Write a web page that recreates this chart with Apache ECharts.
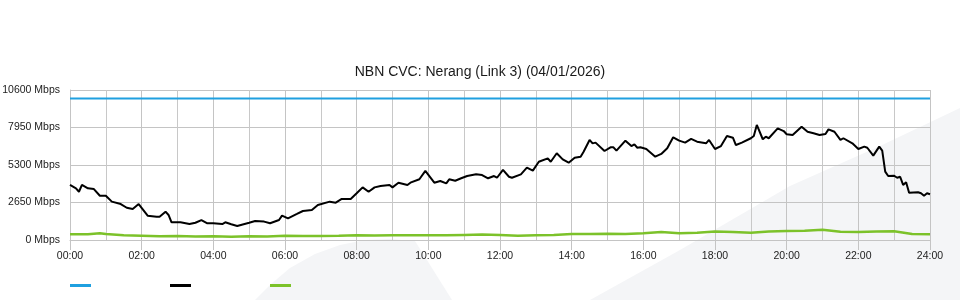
<!DOCTYPE html>
<html>
<head>
<meta charset="utf-8">
<script src="https://cdn.jsdelivr.net/npm/echarts@6/dist/echarts.min.js"></script>
<style>html,body{margin:0;padding:0;background:#fff;}#c{width:960px;height:300px;}</style>
</head>
<body>
<div id="c"></div>
<script>
// Y axis ticks (Mbps)
var yTicks = [0, 2650, 5300, 7950, 10600];
// X axis: hours of day
var xTickHours = [0, 2, 4, 6, 8, 10, 12, 14, 16, 18, 20, 22, 24];

// Capacity line
var capTimes = [0, 1440];
var capValues = [10000, 10000];

// Download (black) — minutes since midnight / Mbps
var dlTimes = [0,10,15,20,30,40,50,60,70,85,95,105,115,130,145,150,160,165,170,185,200,210,220,230,240,255,260,270,280,300,310,325,335,350,355,365,380,390,405,415,435,445,455,470,480,490,500,510,520,535,540,550,565,570,585,595,610,620,630,635,645,655,665,680,690,700,710,715,725,735,740,755,765,775,785,800,805,815,825,835,845,855,860,870,875,880,895,905,910,915,930,940,945,950,955,965,980,990,1000,1010,1020,1030,1040,1050,1065,1070,1080,1090,1100,1110,1115,1125,1140,1145,1150,1160,1165,1170,1185,1195,1200,1210,1225,1235,1245,1255,1265,1270,1280,1290,1295,1310,1320,1330,1335,1345,1355,1360,1365,1370,1380,1385,1390,1395,1400,1405,1420,1425,1430,1435,1440];
var dlValues = [3890,3650,3410,3890,3650,3600,3130,3130,2710,2540,2280,2190,2540,1720,1650,1650,2000,1770,1250,1250,1130,1220,1410,1180,1180,1130,1250,1110,990,1220,1340,1300,1180,1410,1720,1530,1840,2050,2120,2470,2710,2640,2900,2900,3300,3720,3410,3720,3820,3890,3720,4050,3890,4050,4290,4880,4050,4170,4000,4290,4190,4360,4520,4640,4590,4360,4520,4400,4950,4470,4400,4640,5110,4900,5530,5770,5530,6130,5700,5460,5820,5890,6240,7070,6830,6880,6290,6550,6550,6310,7020,6640,6760,6520,6550,6430,5890,6080,6480,7260,7020,6880,7140,6950,6830,7070,6430,6640,7350,7230,6710,6880,7190,7350,8130,7120,7300,7190,7890,7700,7470,7420,8010,7650,7540,7420,7490,7820,7650,7070,7190,6830,6430,6600,6520,5960,6600,6310,4830,4520,4540,4400,4470,3890,4080,3340,3370,3300,3130,3300,3230];

// Upload (green) — minutes since midnight / Mbps
var ulTimes = [0,30,50,60,90,120,150,180,210,240,270,300,330,360,390,420,450,480,510,540,570,600,630,660,690,720,750,780,810,840,870,900,930,960,990,1020,1050,1080,1110,1140,1170,1200,1230,1260,1290,1320,1350,1380,1410,1440];
var ulValues = [410,400,480,420,330,300,260,290,250,270,230,270,250,300,280,290,300,330,320,330,330,330,340,360,380,360,300,330,350,430,420,450,430,480,560,470,520,600,560,520,600,640,660,730,580,560,600,620,420,400];

function pairs(t, v) { return t.map(function (m, i) { return [m / 60, v[i]]; }); }

var chart = echarts.init(document.getElementById('c'), null, {renderer: 'canvas'});
var fontFam = 'Arial, "Liberation Sans", sans-serif';
var noText = function () { return ''; };
chart.setOption({
  animation: false,
  backgroundColor: '#ffffff',
  title: {
    text: 'NBN CVC: Nerang (Link 3) (04/01/2026)',
    left: 'center', top: 60,
    textStyle: {fontSize: 14, fontWeight: 'normal', color: '#1a1a1a', fontFamily: fontFam}
  },
  graphic: [
    {type: 'polygon', z: -10, silent: true,
     shape: {points: [[590, 300], [680, 250], [790, 186], [880, 146], [960, 108], [960, 300]]},
     style: {fill: '#f4f5f7'}},
    {type: 'polygon', z: -10, silent: true,
     shape: {points: [[255, 300], [270, 285], [290, 268], [315, 254], [340, 245], [365, 240], [390, 239], [415, 241], [452, 300]]},
     style: {fill: '#f4f5f7'}}
  ],
  legend: [
    {data: ['Capacity'], left: 70, top: 284, padding: 0, icon: 'rect', itemWidth: 21, itemHeight: 3, formatter: noText},
    {data: ['Download'], left: 170, top: 284, padding: 0, icon: 'rect', itemWidth: 21, itemHeight: 3, formatter: noText},
    {data: ['Upload'], left: 270, top: 284, padding: 0, icon: 'rect', itemWidth: 21, itemHeight: 3, formatter: noText}
  ],
  grid: {left: 70, right: 30, top: 90, bottom: 60, containLabel: false, outerBoundsMode: 'none'},
  xAxis: {
    type: 'value', min: xTickHours[0], max: xTickHours[xTickHours.length - 1], interval: 2,
    axisLine: {show: true, lineStyle: {color: '#c4c4c4', width: 1}},
    axisTick: {show: true, length: 10, lineStyle: {color: '#c4c4c4'}},
    minorTick: {show: false, splitNumber: 2},
    minorSplitLine: {show: true, lineStyle: {color: '#c8c8c8', width: 1}},
    splitLine: {show: true, lineStyle: {color: '#c4c4c4', width: 1}},
    axisLabel: {
      fontSize: 10.5, color: '#222', fontFamily: fontFam, margin: 11,
      formatter: function (v) { return (v < 10 ? '0' : '') + v + ':00'; }
    }
  },
  yAxis: {
    type: 'value', min: yTicks[0], max: yTicks[yTicks.length - 1], interval: 2650,
    axisLine: {show: true, lineStyle: {color: '#c4c4c4'}},
    axisTick: {show: false},
    splitLine: {show: true, lineStyle: {color: '#c4c4c4', width: 1}},
    axisLabel: {fontSize: 10.5, color: '#222', fontFamily: fontFam, margin: 10,
      formatter: function (v) { return String(v) + ' Mbps'; }}
  },
  series: [
    {name: 'Capacity', type: 'line', data: pairs(capTimes, capValues), showSymbol: false,
     lineStyle: {color: '#1fa0e0', width: 2}, itemStyle: {color: '#1fa0e0'}, z: 3},
    {name: 'Upload', type: 'line', data: pairs(ulTimes, ulValues), showSymbol: false,
     lineStyle: {color: '#7cc22a', width: 2.5}, itemStyle: {color: '#7cc22a'}, z: 4},
    {name: 'Download', type: 'line', data: pairs(dlTimes, dlValues), showSymbol: false,
     lineStyle: {color: '#000000', width: 2}, itemStyle: {color: '#000000'}, z: 5}
  ]
});
</script>
</body>
</html>
